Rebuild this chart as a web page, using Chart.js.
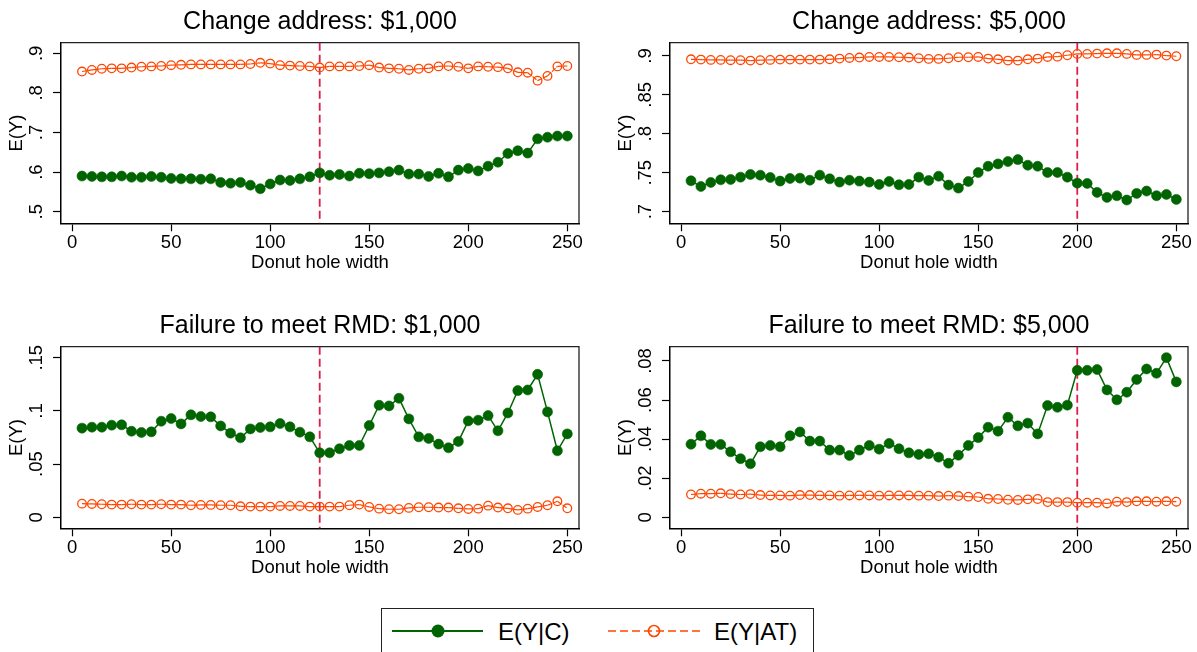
<!DOCTYPE html>
<html>
<head>
<meta charset="utf-8">
<script src="https://cdn.jsdelivr.net/npm/chart.js@4.4.1/dist/chart.umd.min.js"></script>
<style>
html, body { margin: 0; padding: 0; background: #fff; }
body { width: 1197px; height: 652px; position: relative; overflow: hidden; font-family: "Liberation Sans", Arial, sans-serif; }
canvas.panel { position: absolute; }
#legend { position: absolute; left: 381px; top: 608px; width: 433px; height: 50px; border: 1px solid #222; box-sizing: border-box; background: #fff; }
</style>
</head>
<body>
<div id="legend">
  <svg width="433" height="50" xmlns="http://www.w3.org/2000/svg">
    <line x1="10" y1="22" x2="101" y2="22" stroke="#006400" stroke-width="2"/>
    <circle cx="56" cy="22" r="6.5" fill="#006400"/>
    <text x="116" y="30.5" font-family="Liberation Sans, Arial, sans-serif" font-size="24" fill="#000" id="lg1"></text>
    <line x1="226" y1="22" x2="318" y2="22" stroke="#ff4500" stroke-width="1.6" stroke-dasharray="8 4"/>
    <circle cx="272" cy="22" r="5.5" fill="none" stroke="#ff4500" stroke-width="1.6"/>
    <text x="332" y="30.5" font-family="Liberation Sans, Arial, sans-serif" font-size="24" fill="#000" id="lg2"></text>
  </svg>
</div>
<script>
// donut hole widths on the x axis
const xVals = [5, 10, 15, 20, 25, 30, 35, 40, 45, 50, 55, 60, 65, 70, 75, 80, 85, 90, 95, 100,
  105, 110, 115, 120, 125, 130, 135, 140, 145, 150, 155, 160, 165, 170, 175, 180, 185, 190, 195, 200,
  205, 210, 215, 220, 225, 230, 235, 240, 245, 250];
const xTicks = [0, 50, 100, 150, 200, 250];
const seriesLabels = ['E(Y|C)', 'E(Y|AT)'];
const panelTitles = ['Change address: $1,000', 'Change address: $5,000',
  'Failure to meet RMD: $1,000', 'Failure to meet RMD: $5,000'];
const cutoffs = [125, 200, 125, 200];

// Change address: $1,000
const addr1kC = [0.590, 0.589, 0.588, 0.588, 0.590, 0.587, 0.587, 0.589, 0.587, 0.584,
  0.583, 0.583, 0.582, 0.583, 0.574, 0.572, 0.574, 0.567, 0.558, 0.570,
  0.580, 0.579, 0.583, 0.588, 0.598, 0.592, 0.594, 0.590, 0.597, 0.596,
  0.598, 0.601, 0.605, 0.595, 0.595, 0.589, 0.597, 0.588, 0.605, 0.609,
  0.603, 0.615, 0.625, 0.647, 0.654, 0.648, 0.684, 0.688, 0.691, 0.691];
const addr1kAT = [0.854, 0.858, 0.861, 0.862, 0.862, 0.864, 0.866, 0.867, 0.868, 0.870,
  0.871, 0.872, 0.872, 0.872, 0.872, 0.872, 0.872, 0.873, 0.876, 0.874,
  0.870, 0.869, 0.868, 0.867, 0.864, 0.867, 0.867, 0.867, 0.868, 0.870,
  0.864, 0.862, 0.861, 0.858, 0.861, 0.862, 0.867, 0.868, 0.866, 0.862,
  0.867, 0.866, 0.865, 0.862, 0.852, 0.851, 0.831, 0.843, 0.867, 0.868];

// Change address: $5,000
const addr5kC = [0.7396, 0.7323, 0.7375, 0.7409, 0.7413, 0.7443, 0.7477, 0.7468, 0.7438, 0.7392,
  0.7426, 0.7430, 0.7404, 0.7468, 0.7421, 0.7379, 0.7404, 0.7392, 0.7379, 0.7349,
  0.7387, 0.7345, 0.7349, 0.7443, 0.7400, 0.7455, 0.7341, 0.7302, 0.7387, 0.7502,
  0.7583, 0.7613, 0.7643, 0.7668, 0.7596, 0.7583, 0.7502, 0.7502, 0.7443, 0.7366,
  0.7362, 0.7247, 0.7183, 0.7204, 0.7149, 0.7234, 0.7264, 0.7204, 0.7221, 0.7157];
const addr5kAT = [0.8957, 0.8953, 0.8949, 0.8949, 0.8945, 0.8945, 0.8940, 0.8945, 0.8949, 0.8953,
  0.8953, 0.8953, 0.8953, 0.8953, 0.8957, 0.8966, 0.8974, 0.8979, 0.8987, 0.8987,
  0.8987, 0.8983, 0.8979, 0.8970, 0.8962, 0.8962, 0.8970, 0.8983, 0.8983, 0.8987,
  0.8966, 0.8957, 0.8940, 0.8940, 0.8957, 0.8966, 0.8987, 0.8991, 0.9009, 0.9026,
  0.9026, 0.9030, 0.9034, 0.9034, 0.9026, 0.9013, 0.9013, 0.9017, 0.9004, 0.8996];

// Failure to meet RMD: $1,000
const rmd1kC = [0.0838, 0.0847, 0.0847, 0.0866, 0.0869, 0.0809, 0.0797, 0.0803, 0.0903, 0.0928,
  0.0878, 0.0963, 0.0947, 0.0944, 0.0859, 0.0791, 0.0747, 0.0831, 0.0844, 0.0850,
  0.0881, 0.0850, 0.0800, 0.0756, 0.0606, 0.0606, 0.0644, 0.0675, 0.0675, 0.0863,
  0.1053, 0.1047, 0.1119, 0.0925, 0.0756, 0.0741, 0.0688, 0.0653, 0.0713, 0.0906,
  0.0913, 0.0956, 0.0813, 0.0981, 0.1191, 0.1197, 0.1344, 0.0991, 0.0625, 0.0784];
const rmd1kAT = [0.0128, 0.0125, 0.0122, 0.0119, 0.0119, 0.0122, 0.0119, 0.0119, 0.0122, 0.0119,
  0.0119, 0.0113, 0.0116, 0.0116, 0.0113, 0.0113, 0.0103, 0.0100, 0.0100, 0.0100,
  0.0106, 0.0106, 0.0106, 0.0100, 0.0100, 0.0100, 0.0100, 0.0113, 0.0119, 0.0097,
  0.0081, 0.0075, 0.0075, 0.0088, 0.0094, 0.0094, 0.0091, 0.0091, 0.0084, 0.0078,
  0.0081, 0.0109, 0.0091, 0.0084, 0.0069, 0.0081, 0.0097, 0.0113, 0.0150, 0.0084];

// Failure to meet RMD: $5,000
const rmd5kC = [0.0374, 0.0417, 0.0373, 0.0373, 0.0335, 0.0300, 0.0274, 0.0361, 0.0368, 0.0361,
  0.0417, 0.0437, 0.0390, 0.0390, 0.0344, 0.0344, 0.0316, 0.0344, 0.0368, 0.0349,
  0.0378, 0.0351, 0.0330, 0.0322, 0.0325, 0.0308, 0.0277, 0.0318, 0.0368, 0.0408,
  0.0461, 0.0441, 0.0512, 0.0468, 0.0482, 0.0427, 0.0572, 0.0563, 0.0574, 0.0752,
  0.0752, 0.0756, 0.0652, 0.0601, 0.0640, 0.0705, 0.0759, 0.0737, 0.0817, 0.0693];
const rmd5kAT = [0.0117, 0.0121, 0.0121, 0.0123, 0.0119, 0.0117, 0.0119, 0.0114, 0.0112, 0.0112,
  0.0111, 0.0114, 0.0114, 0.0112, 0.0112, 0.0111, 0.0112, 0.0112, 0.0112, 0.0111,
  0.0112, 0.0112, 0.0112, 0.0111, 0.0111, 0.0109, 0.0111, 0.0109, 0.0106, 0.0104,
  0.0095, 0.0094, 0.0090, 0.0089, 0.0092, 0.0094, 0.0078, 0.0078, 0.0078, 0.0075,
  0.0075, 0.0075, 0.0071, 0.0080, 0.0078, 0.0082, 0.0082, 0.0080, 0.0082, 0.0080];

const yTicks1 = [0.5, 0.6, 0.7, 0.8, 0.9];
const yTickLabels1 = ['.5', '.6', '.7', '.8', '.9'];
const yTicks2 = [0.7, 0.75, 0.8, 0.85, 0.9];
const yTickLabels2 = ['.7', '.75', '.8', '.85', '.9'];
const yTicks3 = [0, 0.05, 0.1, 0.15];
const yTickLabels3 = ['0', '.05', '.1', '.15'];
const yTicks4 = [0, 0.02, 0.04, 0.06, 0.08];
const yTickLabels4 = ['0', '.02', '.04', '.06', '.08'];

const FONT = '"Liberation Sans", Arial, Helvetica, sans-serif';
const GREEN = '#006400';
const ORANGE = '#ff4500';
const REFLINE = '#dc1e4b';

document.getElementById('lg1').textContent = seriesLabels[0];
document.getElementById('lg2').textContent = seriesLabels[1];

// page layout of each graph: canvas box and wanted plot region
const panels = [
  { title: panelTitles[0], c: addr1kC, at: addr1kAT, ticks: yTicks1, labels: yTickLabels1,
    yMin: 0.4707, yMax: 0.9268, cut: cutoffs[0],
    box: { left: 0, top: 0, w: 598, h: 300 }, area: { l: 61, t: 42.7, r: 579, b: 223.3 } },
  { title: panelTitles[1], c: addr5kC, at: addr5kAT, ticks: yTicks2, labels: yTickLabels2,
    yMin: 0.685, yMax: 0.917, cut: cutoffs[1],
    box: { left: 598, top: 0, w: 599, h: 300 }, area: { l: 670, t: 42.7, r: 1188, b: 223.3 } },
  { title: panelTitles[2], c: rmd1kC, at: rmd1kAT, ticks: yTicks3, labels: yTickLabels3,
    yMin: -0.0104, yMax: 0.1604, cut: cutoffs[2],
    box: { left: 0, top: 300, w: 598, h: 305 }, area: { l: 61, t: 346.7, r: 579, b: 528.3 } },
  { title: panelTitles[3], c: rmd5kC, at: rmd5kAT, ticks: yTicks4, labels: yTickLabels4,
    yMin: -0.0056, yMax: 0.0873, cut: cutoffs[3],
    box: { left: 598, top: 300, w: 599, h: 305 }, area: { l: 670, t: 346.7, r: 1188, b: 528.3 } }
];

function makeDecor(p) {
  return {
    id: 'decor',
    beforeDatasetsDraw(chart) {
      const { ctx, chartArea: ca } = chart;
      ctx.save();
      ctx.strokeStyle = '#222';
      ctx.lineWidth = 1.3;
      ctx.beginPath();
      ctx.moveTo(ca.left, ca.top);
      ctx.lineTo(ca.right, ca.top);
      ctx.lineTo(ca.right, ca.bottom);
      ctx.stroke();
      const px = chart.scales.x.getPixelForValue(p.cut);
      ctx.strokeStyle = REFLINE;
      ctx.lineWidth = 1.8;
      ctx.setLineDash([8, 4]);
      ctx.beginPath();
      ctx.moveTo(px, ca.top);
      ctx.lineTo(px, ca.bottom);
      ctx.stroke();
      ctx.restore();
    },
    afterDraw(chart) {
      // stata style rotated y labels
      const { ctx, chartArea: ca } = chart;
      const y = chart.scales.y;
      ctx.save();
      ctx.fillStyle = '#000';
      ctx.font = '18.5px ' + FONT;
      ctx.textAlign = 'center';
      ctx.textBaseline = 'middle';
      p.ticks.forEach((v, i) => {
        ctx.save();
        ctx.translate(ca.left - 24, y.getPixelForValue(v));
        ctx.rotate(-Math.PI / 2);
        ctx.fillText(p.labels[i], 0, 0);
        ctx.restore();
      });
      ctx.restore();
    }
  };
}

panels.forEach((p, k) => {
  const cv = document.createElement('canvas');
  cv.className = 'panel';
  cv.width = p.box.w;
  cv.height = p.box.h;
  cv.style.left = p.box.left + 'px';
  cv.style.top = p.box.top + 'px';
  document.body.appendChild(cv);

  const yAxisW = p.area.l - p.box.left;
  const xAxisH = 54;

  new Chart(cv, {
    type: 'line',
    data: {
      datasets: [
        {
          label: seriesLabels[0],
          data: xVals.map((x, i) => ({ x: x, y: p.c[i] })),
          borderColor: GREEN,
          backgroundColor: GREEN,
          borderWidth: 1.5,
          pointRadius: 5,
          pointBorderWidth: 0.6,
          pointBackgroundColor: GREEN,
          pointBorderColor: GREEN,
          fill: false,
          tension: 0
        },
        {
          label: seriesLabels[1],
          data: xVals.map((x, i) => ({ x: x, y: p.at[i] })),
          borderColor: ORANGE,
          borderWidth: 1.2,
          pointRadius: 4.3,
          pointBorderWidth: 1.3,
          pointBackgroundColor: 'rgba(0,0,0,0)',
          pointBorderColor: ORANGE,
          fill: false,
          tension: 0,
          // restart the dash on each segment so every hollow marker shows its bar
          segment: { borderDash: ctx => ctx.p0DataIndex % 2 ? [5, 1.2] : [5.01, 1.2] }
        }
      ]
    },
    options: {
      responsive: false,
      animation: false,
      layout: {
        padding: {
          left: 0,
          top: (p.area.t - p.box.top) - 42.7,
          right: p.box.w - (p.area.r - p.box.left),
          bottom: p.box.h - (p.area.b - p.box.top) - xAxisH
        }
      },
      plugins: {
        legend: { display: false },
        tooltip: { enabled: false },
        title: {
          display: true,
          text: p.title,
          fullSize: false,
          color: '#000',
          font: { family: FONT, size: 25, weight: 'normal' },
          padding: { top: 6.8, bottom: 5.9 }
        }
      },
      scales: {
        x: {
          type: 'linear',
          min: -5.6,
          max: 255.9,
          afterBuildTicks: s => { s.ticks = xTicks.map(v => ({ value: v })); },
          afterFit: s => { s.height = xAxisH; },
          ticks: { color: '#000', font: { family: FONT, size: 18.5 }, padding: 1, maxRotation: 0, autoSkip: false },
          grid: { drawOnChartArea: false, drawTicks: true, tickLength: 8, tickColor: '#000', tickWidth: 1.2 },
          border: { display: true, color: '#000', width: 1.5 },
          title: { display: true, text: 'Donut hole width', color: '#000',
            font: { family: FONT, size: 18.5 }, padding: { top: 0, bottom: 3 } }
        },
        y: {
          type: 'linear',
          min: p.yMin,
          max: p.yMax,
          afterBuildTicks: s => { s.ticks = p.ticks.map(v => ({ value: v })); },
          afterFit: s => { s.width = yAxisW; },
          ticks: { display: false, autoSkip: false },
          grid: { drawOnChartArea: false, drawTicks: true, tickLength: 8, tickColor: '#000', tickWidth: 1.2 },
          border: { display: true, color: '#000', width: 1.5 },
          title: { display: true, text: 'E(Y)', color: '#000',
            font: { family: FONT, size: 18.5 }, padding: { top: yAxisW - 44 - 11.1, bottom: 0 } }
        }
      }
    },
    plugins: [makeDecor(p)]
  });
});
</script>
</body>
</html>
